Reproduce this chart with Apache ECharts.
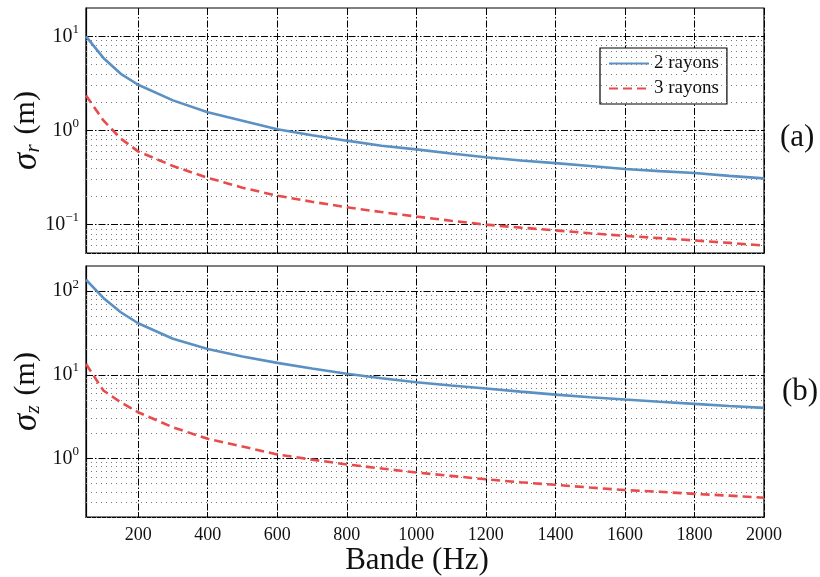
<!DOCTYPE html>
<html>
<head>
<meta charset="utf-8">
<script src="https://cdn.jsdelivr.net/npm/echarts@6/dist/echarts.min.js"></script>
<style>html,body{margin:0;padding:0;background:#fff}#c{width:820px;height:577px}</style>
</head>
<body>
<div id="c"></div>
<script>
const freqs = [50,100,150,200,300,400,500,600,700,800,900,1000,1100,1200,1300,1400,1500,1600,1700,1800,1900,2000];
const sigmaR2 = [10,5.9,4.0,3.06,2.09,1.56,1.27,1.03,0.89,0.78,0.69,0.63,0.57,0.52,0.48,0.45,0.42,0.39,0.37,0.354,0.33,0.31];
const sigmaR3 = [2.36,1.28,0.82,0.60,0.42,0.315,0.247,0.203,0.175,0.153,0.136,0.122,0.11,0.10,0.093,0.087,0.081,0.076,0.072,0.068,0.064,0.06];
const sigmaZ2 = [137,83,56,41.4,27,20.4,16.6,13.9,11.9,10.3,9.1,8.16,7.45,6.86,6.3,5.8,5.4,5.07,4.77,4.5,4.25,4.03];
const sigmaZ3 = [13.5,6.5,4.7,3.57,2.36,1.72,1.39,1.12,0.97,0.85,0.76,0.68,0.62,0.565,0.52,0.485,0.45,0.42,0.40,0.378,0.36,0.34];
const xTicks = [200,400,600,800,1000,1200,1400,1600,1800,2000];
const yTicksTop = [0.1,1,10];
const yTicksBot = [1,10,100];
const minorTop = [0.05,0.06,0.07,0.08,0.09,0.2,0.3,0.4,0.5,0.6,0.7,0.8,0.9,2,3,4,5,6,7,8,9];
const minorBot = [0.2,0.3,0.4,0.5,0.6,0.7,0.8,0.9,2,3,4,5,6,7,8,9,20,30,40,50,60,70,80,90];
const seriesNames = ['2 rayons','3 rayons'];

const FONT = '"Liberation Serif", "DejaVu Serif", serif';
const BLUE = '#5b90c3';
const RED = '#e94b4b';
const pair = (xs, ys) => xs.map((x, i) => [x, ys[i]]);

function expLabel(v) {
  const e = Math.round(Math.log10(v));
  return '{b|10}{s|' + (e < 0 ? '\u2212' + (-e) : e) + '}';
}
const yLabelRich = {
  b: {fontFamily: FONT, fontSize: 20, color: '#111'},
  s: {fontFamily: FONT, fontSize: 13, color: '#111', padding: [0, 0, 14, 0]}
};
function yAxisDef(gi, min, max, ticks, sub) {
  return {
    type: 'log', logBase: 10, gridIndex: gi, min: min, max: max,
    axisLine: {show: true, lineStyle: {color: '#000', width: 1.2}},
    axisTick: {show: true, inside: true, length: 5, customValues: ticks, lineStyle: {color: '#000'}},
    axisLabel: {customValues: ticks, formatter: expLabel, rich: yLabelRich, margin: 7},
    splitLine: {show: true, lineStyle: {color: '#000', width: 1, type: [7, 2, 1.5, 2]}},
    minorTick: {show: false}, minorSplitLine: {show: false},
    name: '{g|\u03c3}{sub|' + sub + '}   {m|(m)}',
    nameLocation: 'middle', nameGap: 42, nameRotate: 90, nameMoveOverlap: false,
    nameTextStyle: {
      rich: {
        g: {fontFamily: FONT, fontStyle: 'italic', fontSize: 35, color: '#111'},
        sub: {fontFamily: FONT, fontStyle: 'italic', fontSize: 21, color: '#111', padding: [14, 0, 0, 0]},
        m: {fontFamily: FONT, fontSize: 30, color: '#111'}
      }
    }
  };
}
function xAxisDef(gi, showLabels) {
  return {
    type: 'value', gridIndex: gi, min: 50, max: 2000,
    axisLine: {show: true, lineStyle: {color: '#000', width: 1.2}},
    axisTick: {show: true, inside: true, length: 5, customValues: xTicks, lineStyle: {color: '#000'}},
    axisLabel: {show: showLabels, customValues: xTicks, formatter: v => String(v), fontFamily: FONT, fontSize: 18, color: '#111', margin: 9},
    splitLine: {show: true, lineStyle: {color: '#000', width: 1, type: [7, 2, 1.5, 2]}},
    name: showLabels ? 'Bande (Hz)' : '',
    nameLocation: 'middle', nameGap: 28, nameMoveOverlap: false,
    nameTextStyle: {fontFamily: FONT, fontSize: 31, color: '#111', padding: [0, 16, 0, 0]}
  };
}
function minorSeries(xi, yi, vals) {
  return {
    type: 'line', name: 'minor' + xi, xAxisIndex: xi, yAxisIndex: yi, z: 1,
    data: [], symbol: 'none', silent: true,
    markLine: {
      silent: true, symbol: 'none', label: {show: false}, animation: false,
      lineStyle: {color: '#7a7a7a', width: 1, type: [1, 4]},
      emphasis: {disabled: true},
      data: vals.map(v => ({yAxis: v}))
    }
  };
}
function curve(name, xi, yi, ys, color, dashed) {
  return {
    type: 'line', name: name, xAxisIndex: xi, yAxisIndex: yi, z: 5,
    data: pair(freqs, ys), symbol: 'none', showSymbol: false,
    lineStyle: {color: color, width: 2.6, type: dashed ? [9, 5] : 'solid'},
    itemStyle: {color: color}, animation: false
  };
}

const chart = echarts.init(document.getElementById('c'), null, {renderer: 'canvas'});
chart.setOption({
  backgroundColor: '#fff',
  animation: false,
  grid: [
    {left: 86, right: 56, top: 8, height: 245, show: true, borderColor: '#000', borderWidth: 1.2, backgroundColor: 'transparent', containLabel: false, outerBoundsMode: 'none'},
    {left: 86, right: 56, top: 266, height: 251, show: true, borderColor: '#000', borderWidth: 1.2, backgroundColor: 'transparent', containLabel: false, outerBoundsMode: 'none'}
  ],
  xAxis: [xAxisDef(0, false), xAxisDef(1, true)],
  yAxis: [yAxisDef(0, 0.05, 20, yTicksTop, 'r'), yAxisDef(1, 0.2, 200, yTicksBot, 'z')],
  legend: {
    data: seriesNames, orient: 'vertical', left: 600, top: 48,
    padding: [6, 8, 6, 8], itemGap: 6, itemWidth: 40, itemHeight: 14,
    itemStyle: {opacity: 0},
    backgroundColor: '#fff', borderColor: '#000', borderWidth: 1.2,
    textStyle: {fontFamily: FONT, fontSize: 19, color: '#111'}
  },
  graphic: [
    {type: 'text', left: 780, top: 122, style: {text: '(a)', font: '31px ' + FONT, fill: '#111'}},
    {type: 'text', left: 782, top: 376, style: {text: '(b)', font: '31px ' + FONT, fill: '#111'}}
  ],
  series: [
    minorSeries(0, 0, minorTop),
    minorSeries(1, 1, minorBot),
    curve(seriesNames[0], 0, 0, sigmaR2, BLUE, false),
    curve(seriesNames[1], 0, 0, sigmaR3, RED, true),
    curve(seriesNames[0], 1, 1, sigmaZ2, BLUE, false),
    curve(seriesNames[1], 1, 1, sigmaZ3, RED, true)
  ]
});
</script>
</body>
</html>
